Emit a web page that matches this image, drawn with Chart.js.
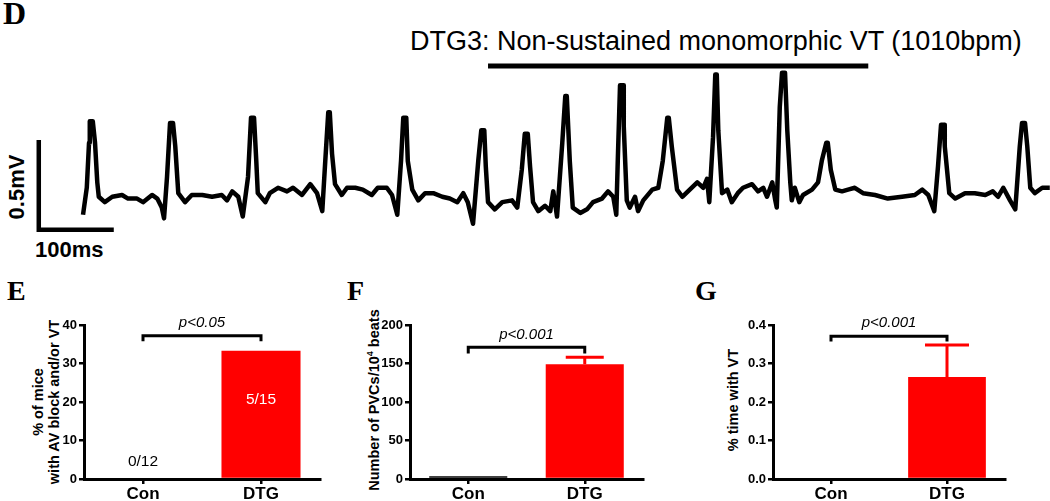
<!DOCTYPE html>
<html>
<head>
<meta charset="utf-8">
<script src="https://cdn.jsdelivr.net/npm/chart.js@4/dist/chart.umd.min.js"></script>
<style>
  body { margin: 0; background: #fff; width: 1050px; height: 501px; overflow: hidden; position: relative; font-family: "Liberation Sans", Arial, sans-serif; }
  canvas, .t { position: absolute; }
  .t { white-space: nowrap; color: #000; line-height: 1; }
  .panel { font-family: "Liberation Serif", "Times New Roman", serif; font-weight: bold; font-size: 28px; }
  .rot { transform: translate(-50%, -50%) rotate(-90deg); text-align: center; }
  .ytitle { font-weight: bold; font-size: 14.5px; line-height: 16px; }
  sup { font-size: 9px; line-height: 0; vertical-align: 6px; }
</style>
</head>
<body>
<div class="t panel" style="left:3px;top:-3px;font-size:32px">D</div>
<div class="t" style="left:410px;top:28px;font-size:27px">DTG3: Non-sustained monomorphic VT (1010bpm)</div>
<div class="t rot" style="left:17px;top:187px;font-size:22px;font-weight:bold">0.5mV</div>
<div class="t" style="left:35px;top:239px;font-size:22px;font-weight:bold">100ms</div>

<div class="t panel" style="left:7px;top:277px">E</div>
<div class="t panel" style="left:347px;top:277px">F</div>
<div class="t panel" style="left:695px;top:277px">G</div>

<div class="t rot ytitle" style="left:46px;top:402px">% of mice<br>with AV block and/or VT</div>
<div class="t rot ytitle" style="left:374px;top:400px">Number of PVCs/10<sup>4</sup> beats</div>
<div class="t rot ytitle" style="left:733px;top:400px">% time with VT</div>

<canvas id="ecg" width="1050" height="200" style="left:0;top:50px"></canvas>
<canvas id="chart-e" width="330" height="201" style="left:0;top:300px"></canvas>
<canvas id="chart-f" width="315" height="201" style="left:340px;top:300px"></canvas>
<canvas id="chart-g" width="350" height="201" style="left:700px;top:300px"></canvas>

<script>
// ECG trace, time in ms and amplitude in mV
const ecgTime = [
  0, 5, 8, 9, 13, 16, 19, 21, 29, 39, 52, 60, 72, 80, 92, 99, 105, 108, 112, 116, 120, 123, 127, 136, 145, 159, 172, 185, 192, 199, 207,
  213, 220, 224, 228, 231, 233, 243, 249, 260, 272, 280, 292, 303, 312,
  319, 323, 327, 329, 332, 336, 345, 352, 363, 373, 385, 393, 405, 412,
  419, 424, 427, 431, 433, 439, 447, 456, 467, 479, 489, 499, 507, 513,
  520, 527, 531, 535, 537, 540, 549, 559, 572, 579,
  585, 589, 593, 596, 600, 607, 616, 623, 627, 632,
  639, 643, 645, 649, 653, 663, 672, 680, 692, 700, 707, 711,
  713, 716, 720, 721, 725, 729, 736, 740, 747, 759, 767,
  773, 779, 781, 785, 792, 799, 809, 819, 827, 832, 835,
  840, 843, 845, 847, 852, 859, 865, 873, 880, 892, 900, 907, 912, 919, 923, 925,
  929, 932, 936, 939, 943, 945, 949, 955, 960, 972, 980,
  985, 991, 993, 997, 1003, 1012, 1020, 1029, 1040, 1056, 1073, 1092, 1109, 1119, 1127, 1135,
  1140, 1144, 1148, 1149, 1155, 1163, 1176, 1189, 1203, 1213, 1220, 1227, 1236, 1243,
  1249, 1252, 1256, 1259, 1263, 1269, 1279, 1289
];
const ecgMv = [
  -0.11, 0.04, 0.29, 0.41, 0.41, 0.29, 0.07, -0.01, -0.04, -0.01, 0, -0.02, -0.02, -0.04, 0, -0.02, -0.07, -0.13, 0.10, 0.40, 0.40, 0.27, 0.01, -0.04, 0, 0, -0.01, 0, -0.03, 0.02, -0.01,
  -0.12, 0.10, 0.43, 0.43, 0.19, 0.01, -0.04, 0.01, 0.04, 0.02, 0.04, 0, 0.06, 0.01,
  -0.09, 0.19, 0.46, 0.46, 0.23, 0.06, 0, 0.04, 0.04, 0.03, 0, 0.04, 0.04, 0,
  -0.11, 0.19, 0.43, 0.43, 0.19, 0.03, -0.03, 0.01, 0.01, -0.01, -0.02, -0.04, 0.01, -0.04,
  -0.16, 0.19, 0.36, 0.36, 0.16, -0.04, -0.08, -0.04, -0.03, -0.07,
  0.14, 0.34, 0.34, 0.16, -0.04, -0.09, -0.06, -0.09, 0.02, -0.12,
  0.29, 0.55, 0.55, 0.19, -0.07, -0.10, -0.08, -0.04, -0.02, 0.02, -0.01, -0.11,
  0.19, 0.61, 0.61, 0.38, -0.03, -0.07, -0.01, -0.09, -0.03, 0.03, 0.04,
  0.19, 0.43, 0.43, 0.27, 0.03, -0.01, 0.03, 0.07, 0.04, 0.09, -0.04,
  0.32, 0.67, 0.67, 0.36, 0.01, 0.03, -0.04, 0.01, 0.04, 0.06, 0.02, 0.04, -0.01, 0.07, -0.03, -0.07,
  0.49, 0.68, 0.68, 0.36, 0.07, -0.03, 0.04, -0.04, 0, 0.03, 0.07,
  0.19, 0.29, 0.29, 0.14, 0.03, 0.02, 0.03, 0.04, 0.01, 0, -0.02, -0.01, 0, 0.03, 0, -0.09,
  0.16, 0.39, 0.39, 0.27, 0.01, -0.02, 0.01, 0.01, 0, 0.02, -0.01, 0.04, -0.03, -0.08,
  0.27, 0.40, 0.40, 0.27, 0.04, 0.01, 0.04, 0.04
];
// VT episode marked by the bar (ms)
const vtSpan = [540, 1047];
// calibration bar: 100 ms, 0.5 mV
const calMs = 100, calMv = 0.5;

const groups = ["Con", "DTG"];
const pctMice = [0, 33.3];
const miceCounts = ["0/12", "5/15"];
const pvcMean = [3.5, 149];
const pvcSem = [0, 9];
const vtPct = [0, 0.265];
const vtSem = [0, 0.083];

const FONT = "'Liberation Sans', Arial, sans-serif";

new Chart(document.getElementById("ecg"), {
    type: "line",
    data: {
        datasets: [
            { data: ecgTime.map((t, i) => ({ x: t, y: ecgMv[i] })), borderColor: "#000", borderWidth: 4.5, borderJoinStyle: "round", pointRadius: 0, tension: 0, clip: false },
            { data: [{ x: -59, y: -0.194 + calMv }, { x: -59, y: -0.194 }, { x: -59 + calMs, y: -0.194 }], borderColor: "#000", borderWidth: 4.5, pointRadius: 0, clip: false },
            { data: [{ x: vtSpan[0], y: 0.717 }, { x: vtSpan[1], y: 0.717 }], borderColor: "#000", borderWidth: 5, pointRadius: 0, clip: false }
        ]
    },
    options: {
        responsive: false, animation: false,
        layout: { padding: 0 },
        plugins: { legend: { display: false }, tooltip: { enabled: false } },
        scales: { x: { type: "linear", display: false, min: -110.7, max: 1289.3 }, y: { display: false, min: -0.306, max: 0.806 } }
    }
});

// brackets, p values, error bars and in-bar counts
const annot = {
    id: "annot",
    afterDatasetsDraw(chart, args, o) {
        const { ctx, scales: { x, y } } = chart;
        const vals = chart.data.datasets[0].data;
        ctx.save();
        (o.err || []).forEach((e, i) => {
            if (!e) return;
            const cx = x.getPixelForValue(i);
            const y0 = y.getPixelForValue(vals[i]), y1 = y.getPixelForValue(vals[i] + e);
            ctx.strokeStyle = "#ff0000"; ctx.lineWidth = 3;
            ctx.beginPath();
            ctx.moveTo(cx, y0); ctx.lineTo(cx, y1);
            ctx.moveTo(cx - o.cap / 2, y1); ctx.lineTo(cx + o.cap / 2, y1);
            ctx.stroke();
        });
        const x0 = x.getPixelForValue(0), x1 = x.getPixelForValue(1);
        const yh = y.getPixelForValue(o.bracket[0]), yl = y.getPixelForValue(o.bracket[1]);
        ctx.strokeStyle = "#000"; ctx.lineWidth = 3;
        ctx.beginPath();
        ctx.moveTo(x0, yl); ctx.lineTo(x0, yh); ctx.lineTo(x1, yh); ctx.lineTo(x1, yl);
        ctx.stroke();
        ctx.fillStyle = "#000"; ctx.textAlign = "center"; ctx.textBaseline = "middle";
        ctx.font = "italic 15px " + FONT;
        ctx.fillText(o.p, (x0 + x1) / 2, yh - 13);
        (o.counts || []).forEach((c, i) => {
            ctx.font = "15.5px " + FONT;
            ctx.fillStyle = o.countColors[i];
            ctx.fillText(c, x.getPixelForValue(i), y.getPixelForValue(o.countAt[i]));
        });
        ctx.restore();
    }
};

function barChart(id, values, yMax, step, fmt, yWidth, padRight, ann) {
    return new Chart(document.getElementById(id), {
        type: "bar",
        data: { labels: groups, datasets: [{ data: values, backgroundColor: ["#000", "#ff0000"], barPercentage: 0.67, categoryPercentage: 1 }] },
        options: {
            responsive: false, animation: false,
            layout: { padding: { top: 25, right: padRight, left: 0, bottom: 0 } },
            plugins: { legend: { display: false }, tooltip: { enabled: false }, annot: ann },
            scales: {
                x: {
                    grid: { offset: false, drawOnChartArea: false, color: "#000", lineWidth: 2.5, tickLength: 5 },
                    border: { color: "#000", width: 3 },
                    ticks: { color: "#000", font: { family: FONT, size: 17, weight: "bold" }, padding: 0 },
                    afterFit: s => { s.height = 22; }
                },
                y: {
                    min: 0, max: yMax,
                    grid: { drawOnChartArea: false, color: "#000", lineWidth: 2.5, tickLength: 5 },
                    border: { color: "#000", width: 3 },
                    ticks: { stepSize: step, callback: fmt, color: "#000", font: { family: FONT, size: 13, weight: "bold" }, padding: 2 },
                    afterFit: s => { s.width = yWidth; }
                }
            }
        },
        plugins: [annot]
    });
}

barChart("chart-e", pctMice, 40, 10, v => v, 84, 10,
    { bracket: [37.2, 35.8], p: "p<0.05", counts: miceCounts, countAt: [4.4, 20.5], countColors: ["#000", "#fff"] });
barChart("chart-f", pvcMean, 200, 50, v => v, 70, 12,
    { bracket: [171, 163], p: "p<0.001", err: pvcSem, cap: 38 });
barChart("chart-g", vtPct, 0.4, 0.1, v => v.toFixed(1), 73, 45,
    { bracket: [0.371, 0.357], p: "p<0.001", err: vtSem, cap: 44 });
</script>
</body>
</html>
